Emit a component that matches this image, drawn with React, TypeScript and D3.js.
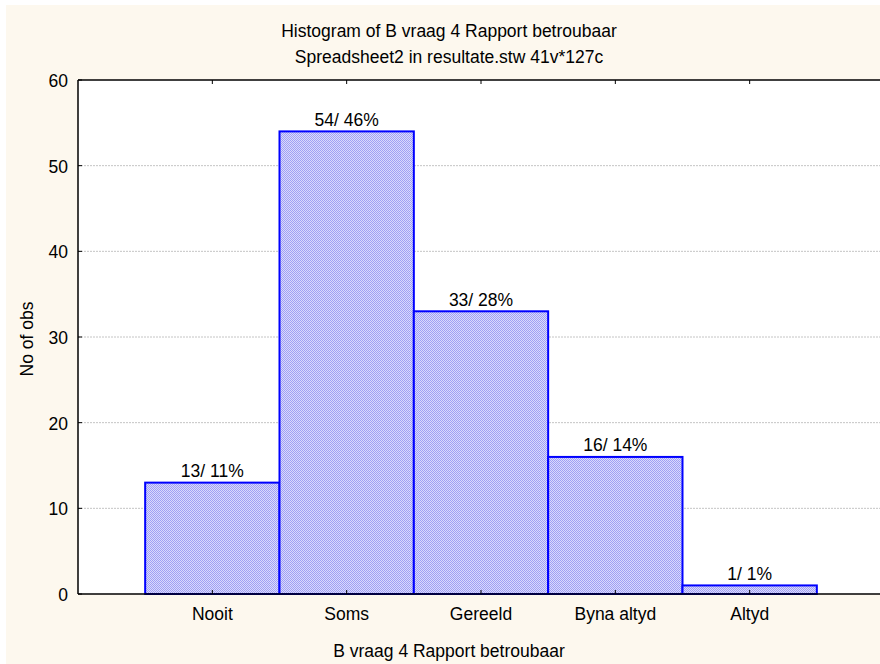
import React from "react";
import * as d3 from "d3";

const categories = ["Nooit", "Soms", "Gereeld", "Byna altyd", "Altyd"];
const counts = [13, 54, 33, 16, 1];
const percents = ["11%", "46%", "28%", "14%", "1%"];
const yTicks = [0, 10, 20, 30, 40, 50, 60];
const titleLines = ["Histogram of B vraag 4 Rapport betroubaar", "Spreadsheet2 in resultate.stw 41v*127c"];
const xTitle = "B vraag 4 Rapport betroubaar";
const yTitle = "No of obs";

const W = 880, H = 664;
const L = 78, R = 884, T = 80, B = 594;
const FONT = "'Liberation Sans', Arial, sans-serif";
const FS = 17.5;

export default function App() {
  const x = d3.scaleBand<string>().domain(categories).range([L, R]).paddingInner(0).paddingOuter(0.5);
  const y = d3.scaleLinear().domain([0, 60]).range([B, T]);
  return (
    <svg width={W} height={H} style={{ position: "absolute", left: 0, top: 0, display: "block" }} fontFamily={FONT}>
      <defs>
        <pattern id="dither" width="2" height="2" patternUnits="userSpaceOnUse">
          <rect width="2" height="2" fill="#dadafc" />
          <rect x="0" y="0" width="1" height="1" fill="#a0a0f4" />
          <rect x="1" y="1" width="1" height="1" fill="#a0a0f4" />
        </pattern>
      </defs>
      <rect x={0} y={0} width={W} height={H} fill="#ffffff" />
      <rect x={6} y={5} width={W - 6} height={H - 5} fill="#fdf8ee" />
      <rect x={L} y={T} width={R - L} height={B - T} fill="#ffffff" />
      {yTicks.filter(t => t > 0 && t < 60).map(t => (
        <line key={"g" + t} x1={L} x2={R} y1={y(t)} y2={y(t)} stroke="#c4c4c4" strokeWidth={1} strokeDasharray="2,1" />
      ))}
      {categories.map((c, i) => (
        <g key={c}>
          <rect x={x(c)!} y={y(counts[i])} width={x.bandwidth()} height={B - y(counts[i])} fill="url(#dither)" stroke="#0000ff" strokeWidth={2} />
          <text x={x(c)! + x.bandwidth() / 2} y={y(counts[i]) - 5.5} textAnchor="middle" fontSize={FS} fill="#000">
            {counts[i] + "/ " + percents[i]}
          </text>
        </g>
      ))}
      <line x1={L} x2={R} y1={T} y2={T} stroke="#000" strokeWidth={1.5} />
      <line x1={L} x2={R} y1={B} y2={B} stroke="#000" strokeWidth={1.5} />
      <line x1={L} x2={L} y1={T} y2={B} stroke="#000" strokeWidth={1.5} />
      {categories.map(c => {
        const cx = x(c)! + x.bandwidth() / 2;
        return (
          <g key={"t" + c}>
            <line x1={cx} x2={cx} y1={B} y2={B - 4} stroke="#000" />
            <line x1={cx} x2={cx} y1={T} y2={T + 4} stroke="#000" />
            <text x={cx} y={620} textAnchor="middle" fontSize={FS} fill="#000">{c}</text>
          </g>
        );
      })}
      {yTicks.map(t => (
        <g key={"y" + t}>
          <line x1={L} x2={L + 4} y1={y(t)} y2={y(t)} stroke="#000" />
          <text x={L - 10} y={y(t) + 7} textAnchor="end" fontSize={FS} fill="#000">{t}</text>
        </g>
      ))}
      {titleLines.map((s, i) => (
        <text key={s} x={449} y={37 + i * 26} textAnchor="middle" fontSize={FS} fill="#000">{s}</text>
      ))}
      <text x={449} y={657} textAnchor="middle" fontSize={FS} fill="#000">{xTitle}</text>
      <text transform={`translate(33,${339}) rotate(-90)`} textAnchor="middle" fontSize={FS} fill="#000">{yTitle}</text>
    </svg>
  );
}
